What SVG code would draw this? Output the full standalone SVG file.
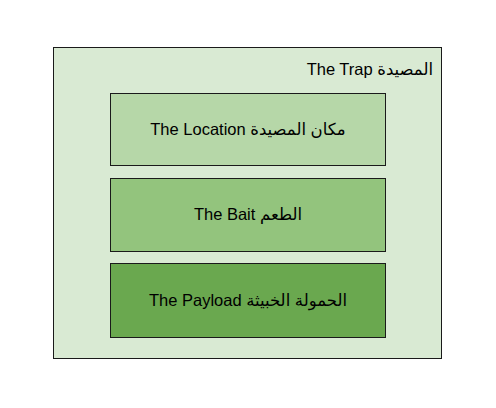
<svg xmlns="http://www.w3.org/2000/svg" width="496" height="408" viewBox="0 0 496 408">
<style>
.box{stroke:#1a1a1a;stroke-width:1}
.lbl{font-family:"Liberation Sans",Arial,"DejaVu Sans",sans-serif;font-size:16.5px;fill:#000}
</style>
<rect width="496" height="408" fill="#ffffff"/>
<g id="trap">
<rect class="box" x="53.5" y="47.5" width="388" height="311" fill="#d9ead3"/>
<text class="lbl" x="433" y="75" text-anchor="end" direction="ltr">The Trap المصيدة</text>
</g>
<g id="location">
<rect class="box" x="110.5" y="93.5" width="275" height="72" fill="#b6d7a8"/>
<text class="lbl" x="248" y="135" text-anchor="middle">The Location مكان المصيدة</text>
</g>
<g id="bait">
<rect class="box" x="110.5" y="178.5" width="275" height="73" fill="#93c47d"/>
<text class="lbl" x="248" y="220" text-anchor="middle">The Bait الطعم</text>
</g>
<g id="payload">
<rect class="box" x="110.5" y="263.5" width="275" height="74" fill="#6aa84f"/>
<text class="lbl" x="248" y="306" text-anchor="middle">The Payload الحمولة الخبيثة</text>
</g>
<g id="connectors"></g>
</svg>
